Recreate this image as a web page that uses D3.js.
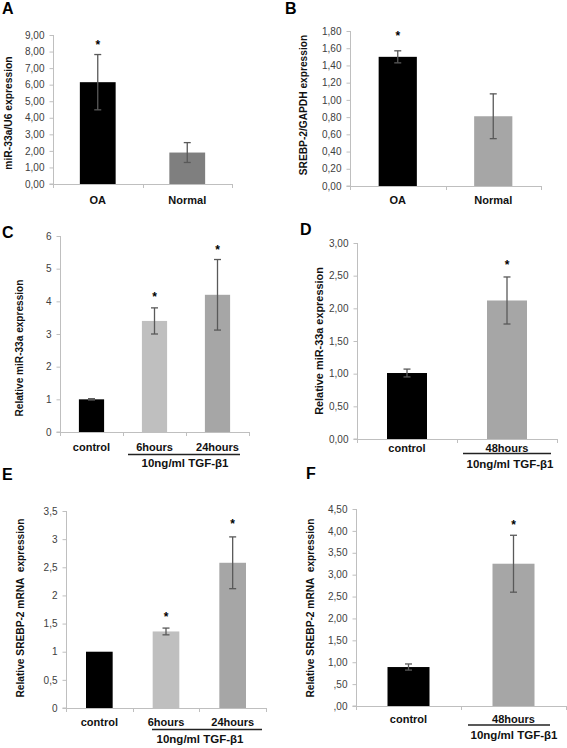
<!DOCTYPE html>
<html>
<head>
<meta charset="utf-8">
<script src="https://cdn.jsdelivr.net/npm/d3@7"></script>
<style>
  html, body { margin: 0; padding: 0; background: #fff; }
  svg { display: block; font-family: "Liberation Sans", Arial, sans-serif; }
</style>
</head>
<body>
<svg id="chart" width="567" height="748"></svg>
<script>
// ---------------- DATA ----------------
// Panel A
const catsA = ["OA", "Normal"];
const valsA = [6.15, 1.90];
const errA = [1.67, 0.60];
const starsA = [8.52, null];
const ticksA = ["0,00","1,00","2,00","3,00","4,00","5,00","6,00","7,00","8,00","9,00"];
// Panel B
const catsB = ["OA", "Normal"];
const valsB = [1.50, 0.81];
const errB = [0.07, 0.26];
const starsB = [1.77, null];
const ticksB = ["0,00","0,20","0,40","0,60","0,80","1,00","1,20","1,40","1,60","1,80"];
// Panel C
const catsC = ["control", "6hours", "24hours"];
const valsC = [1.00, 3.40, 4.20];
const errC = [0.02, 0.40, 1.08];
const starsC = [null, 4.19, 5.63];
const ticksC = ["0","1","2","3","4","5","6"];
// Panel D
const catsD = ["control", "48hours"];
const valsD = [1.01, 2.12];
const errD = [0.06, 0.36];
const starsD = [null, 2.69];
const ticksD = ["0,00","0,50","1,00","1,50","2,00","2,50","3,00"];
// Panel E
const catsE = ["control", "6hours", "24hours"];
const valsE = [1.00, 1.36, 2.58];
const errE = [0.00, 0.06, 0.46];
const starsE = [null, 1.65, 3.30];
const ticksE = ["0","0,5","1","1,5","2","2,5","3","3,5"];
// Panel F
const catsF = ["control", "48hours"];
const valsF = [0.89, 3.25];
const errF = [0.07, 0.65];
const starsF = [null, 4.18];
const ticksF = [",00",",50","1,00","1,50","2,00","2,50","3,00","3,50","4,00","4,50"];

const treatmentLabel = "10ng/ml TGF-β1";

// ---------------- LAYOUT / STYLE ----------------
const panels = [
  { letter: "A", lx: 2, ly: 14, cats: catsA, vals: valsA, errs: errA, stars: starsA, ticks: ticksA,
    x0: 53, x1: 232, yTop: 35, yBot: 184, colors: ["#000000", "#7f7f7f"],
    title: "miR-33a/U6 expression", tx: 8, ty: 113, tfs: 10.3, labY: 204 },
  { letter: "B", lx: 285, ly: 14, cats: catsB, vals: valsB, errs: errB, stars: starsB, ticks: ticksB,
    x0: 350, x1: 541, yTop: 31, yBot: 186, colors: ["#000000", "#a6a6a6"],
    title: "SREBP-2/GAPDH expression", tx: 303, ty: 105, tfs: 10.2, labY: 204 },
  { letter: "C", lx: 2, ly: 238, cats: catsC, vals: valsC, errs: errC, stars: starsC, ticks: ticksC,
    x0: 60, x1: 249, yTop: 236, yBot: 432, colors: ["#000000", "#bfbfbf", "#a6a6a6"],
    title: "Relative miR-33a expression", tx: 19.5, ty: 348, tfs: 10.1, labY: 451,
    under: { x1: 128, x2: 240, y: 454.5 }, treat: { x: 185, y: 467 } },
  { letter: "D", lx: 300, ly: 235, cats: catsD, vals: valsD, errs: errD, stars: starsD, ticks: ticksD,
    x0: 357, x1: 557, yTop: 243, yBot: 439, colors: ["#000000", "#a6a6a6"],
    title: "Relative miR-33a expression", tx: 319, ty: 341, tfs: 10.9, labY: 451.5,
    under: { x1: 463, x2: 551, y: 453.5 }, treat: { x: 510, y: 468 } },
  { letter: "E", lx: 2, ly: 480, cats: catsE, vals: valsE, errs: errE, stars: starsE, ticks: ticksE,
    x0: 66, x1: 266, yTop: 511, yBot: 708, colors: ["#000000", "#bfbfbf", "#a6a6a6"],
    title: "Relative SREBP-2 mRNA  expression", tx: 20, ty: 608, tfs: 10.2, labY: 726,
    under: { x1: 152, x2: 262, y: 729.5 }, treat: { x: 200, y: 743 } },
  { letter: "F", lx: 306, ly: 479, cats: catsF, vals: valsF, errs: errF, stars: starsF, ticks: ticksF,
    x0: 356, x1: 566, yTop: 509, yBot: 706, colors: ["#000000", "#a6a6a6"],
    title: "Relative SREBP-2 mRNA  expression", tx: 310, ty: 608, tfs: 10.2, labY: 723,
    under: { x1: 468, x2: 550, y: 725 }, treat: { x: 514, y: 739 } }
];

const svg = d3.select("#chart");
const axisColor = "#bfbfbf";
const tickTextColor = "#404040";
const errColor = "#595959";

panels.forEach(p => {
  const g = svg.append("g");
  const maxV = +p.ticks[p.ticks.length - 1].replace(",", ".");
  const tickVals = p.ticks.map(t => +t.replace(",", "."));
  const y = d3.scaleLinear().domain([0, maxV]).range([p.yBot, p.yTop]);
  const x = d3.scaleBand().domain(p.cats).range([p.x0, p.x1]).paddingInner(0.6).paddingOuter(0.3);
  const step = x.step();

  // panel letter
  g.append("text").attr("x", p.lx).attr("y", p.ly)
    .attr("font-size", 16).attr("font-weight", "bold").attr("fill", "#000").text(p.letter);

  // y axis
  const yAxis = d3.axisLeft(y).tickValues(tickVals).tickSize(4).tickPadding(5)
    .tickFormat((d, i) => p.ticks[i]);
  const ya = g.append("g").attr("transform", `translate(${p.x0 + 0.5},0)`).call(yAxis);
  ya.select(".domain").attr("stroke", axisColor).attr("d", `M-4,${y(0)}H0V${y(maxV)}`);
  ya.selectAll(".tick line").attr("stroke", axisColor);
  ya.selectAll(".tick text").attr("fill", tickTextColor).attr("font-size", 10)
    .attr("font-family", "'Liberation Sans', Arial, sans-serif");

  // x axis line with boundary ticks
  const boundaries = d3.range(p.cats.length + 1).map(i => p.x0 + i * step);
  g.append("line").attr("x1", p.x0).attr("x2", p.x1)
    .attr("y1", p.yBot + 0.5).attr("y2", p.yBot + 0.5).attr("stroke", axisColor);
  g.selectAll(".xt").data(boundaries).enter().append("line")
    .attr("x1", d => Math.round(d) + 0.5).attr("x2", d => Math.round(d) + 0.5)
    .attr("y1", p.yBot).attr("y2", p.yBot + 4).attr("stroke", axisColor);

  // bars
  g.selectAll(".bar").data(p.vals).enter().append("rect")
    .attr("x", (d, i) => x(p.cats[i]))
    .attr("width", x.bandwidth())
    .attr("y", d => y(d))
    .attr("height", d => y(0) - y(d))
    .attr("fill", (d, i) => p.colors[i]);

  // error bars
  p.vals.forEach((v, i) => {
    const e = p.errs[i];
    if (!e) return;
    const cx = x(p.cats[i]) + x.bandwidth() / 2;
    const eg = g.append("g").attr("stroke", errColor).attr("stroke-width", 1.3);
    eg.append("line").attr("x1", cx).attr("x2", cx).attr("y1", y(v - e)).attr("y2", y(v + e));
    eg.append("line").attr("x1", cx - 3.5).attr("x2", cx + 3.5).attr("y1", y(v + e)).attr("y2", y(v + e));
    eg.append("line").attr("x1", cx - 3.5).attr("x2", cx + 3.5).attr("y1", y(v - e)).attr("y2", y(v - e));
  });

  // stars
  p.stars.forEach((s, i) => {
    if (s == null) return;
    const cx = x(p.cats[i]) + x.bandwidth() / 2;
    g.append("text").attr("x", cx).attr("y", y(s) + 6).attr("text-anchor", "middle")
      .attr("font-size", 12).attr("font-weight", "bold").attr("fill", "#000").text("*");
  });

  // category labels
  p.cats.forEach((c, i) => {
    g.append("text").attr("x", x(c) + x.bandwidth() / 2).attr("y", p.labY)
      .attr("text-anchor", "middle").attr("font-size", 11).attr("font-weight", "bold")
      .attr("fill", "#111").text(c);
  });

  // treatment underline and label
  if (p.under) {
    g.append("line").attr("x1", p.under.x1).attr("x2", p.under.x2)
      .attr("y1", p.under.y).attr("y2", p.under.y).attr("stroke", "#222").attr("stroke-width", 1.3);
    g.append("text").attr("x", p.treat.x).attr("y", p.treat.y).attr("text-anchor", "middle")
      .attr("font-size", 11.5).attr("font-weight", "bold").attr("fill", "#111").text(treatmentLabel);
  }

  // y title
  g.append("text")
    .attr("transform", `translate(${p.tx},${p.ty}) rotate(-90)`)
    .attr("text-anchor", "middle").attr("dy", "0.35em")
    .attr("font-size", p.tfs).attr("font-weight", "bold").attr("fill", "#111")
    .style("white-space", "pre")
    .text(p.title);
});
</script>
</body>
</html>
